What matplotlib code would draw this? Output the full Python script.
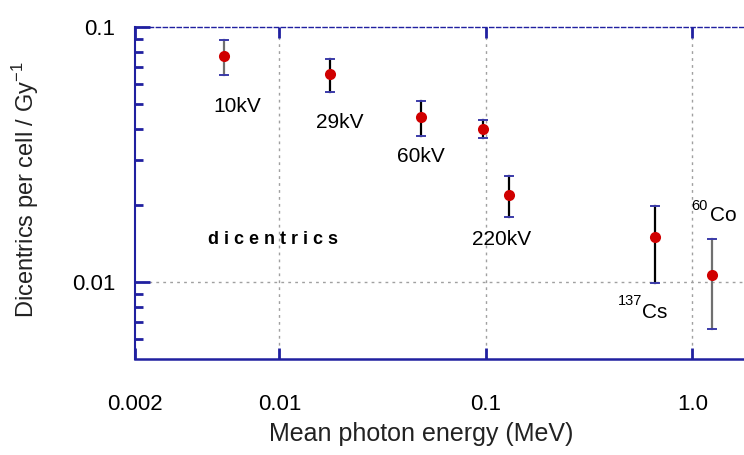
import matplotlib.pyplot as plt
from matplotlib.ticker import FixedLocator, NullFormatter, NullLocator

plt.rcParams['font.family'] = ['Liberation Sans', 'DejaVu Sans']

# mean photon energy (MeV) and dicentric yield per cell per Gy
energy = [0.0054, 0.0175, 0.0485, 0.0964, 0.130, 0.662, 1.25]
yield_ = [0.0770, 0.0655, 0.0445, 0.0399, 0.0219, 0.0150, 0.01065]
err_hi = [0.0892, 0.0747, 0.0513, 0.0432, 0.0261, 0.0199, 0.01475]
err_lo = [0.0648, 0.0557, 0.0375, 0.0368, 0.0180, 0.0099, 0.00658]
bar_colors = ['#707070', 'black', 'black', 'black', 'black', 'black', '#707070']

labels = ['10kV', '29kV', '60kV', '220kV']
label_x = [0.00627, 0.0197, 0.0485, 0.1186]
label_y = [0.0490, 0.0422, 0.0310, 0.0147]

xticks = [0.002, 0.01, 0.1, 1.0]
xtick_labels = ['0.002', '0.01', '0.1', '1.0']

navy = '#2020a0'
cap_col = '#3a3aa8'
grid_col = '#a0a0a0'

fig = plt.figure(figsize=(7.44, 4.55), dpi=100)
ax = fig.add_axes([0.1815, 0.211, 0.8185, 0.7297])
ax.set_xscale('log')
ax.set_yscale('log')
ax.set_xlim(0.002, 1.778)
ax.set_ylim(0.005, 0.1)

for x, y, hi, lo, c in zip(energy, yield_, err_hi, err_lo, bar_colors):
    ax.plot([x, x], [lo, hi], color=c, lw=1.6, zorder=3)
    # blue caps drawn separately from the bar line
    ax.plot([x / 1.045, x * 1.045], [hi, hi], color=cap_col, lw=1.4, zorder=4)
    ax.plot([x / 1.045, x * 1.045], [lo, lo], color=cap_col, lw=1.4, zorder=4)
ax.plot(energy, yield_, 'o', color='#d00000', markersize=8, zorder=5,
        markeredgewidth=0)

for t, x, y in zip(labels, label_x, label_y):
    ax.text(x, y, t, fontsize=15, ha='center', va='center')

ax.text(0.00935, 0.0147, 'd i c e n t r i c s', fontsize=13, fontweight='bold',
        ha='center', va='center')

# isotope labels with small mass numbers
ax.text(0.501, 0.00845, '137', fontsize=10.5, ha='center', va='center')
ax.text(0.657, 0.00763, 'Cs', fontsize=15, ha='center', va='center')
ax.text(1.085, 0.0199, '60', fontsize=10.5, ha='center', va='center')
ax.text(1.406, 0.0182, 'Co', fontsize=15, ha='center', va='center')

for gx in [0.01, 0.1, 1.0]:
    ax.axvline(gx, color=grid_col, lw=1.0, ls=(0, (2, 3)), zorder=1)
ax.axhline(0.01, color=grid_col, lw=1.0, ls=(0, (2, 3)), zorder=1)

ax.spines['right'].set_visible(False)
ax.spines['left'].set_color(navy)
ax.spines['bottom'].set_color(navy)
ax.spines['left'].set_linewidth(1.5)
ax.spines['bottom'].set_linewidth(1.8)
ax.spines['top'].set_color(navy)
ax.spines['top'].set_linestyle((0, (3, 2)))
ax.spines['top'].set_linewidth(1.0)

ax.xaxis.set_major_locator(FixedLocator(xticks))
ax.xaxis.set_minor_locator(NullLocator())
ax.set_xticklabels(xtick_labels)
ax.tick_params(axis='x', which='major', direction='in', length=8, width=2,
               color=navy, top=True, pad=25, labelsize=16)

ax.yaxis.set_major_locator(FixedLocator([0.01, 0.1]))
ax.yaxis.set_minor_locator(FixedLocator([0.006, 0.007, 0.008, 0.009, 0.02, 0.03,
                                         0.04, 0.05, 0.06, 0.07, 0.08, 0.09]))
ax.yaxis.set_minor_formatter(NullFormatter())
ax.set_yticklabels(['0.01', '0.1'])
ax.tick_params(axis='y', which='major', direction='in', length=11, width=2,
               color=navy, pad=14, labelsize=16)
ax.tick_params(axis='y', which='minor', direction='in', length=6, width=2,
               color=navy)

ax.set_xlabel('Mean photon energy (MeV)', fontsize=18, color='#222222')
ax.xaxis.set_label_coords(0.47, -0.19)
ax.set_ylabel('Dicentrics per cell / Gy$^{\\mathregular{-1}}$', fontsize=17,
              color='#222222')
ax.yaxis.set_label_coords(-0.155, 0.51)

fig.savefig('out.png', dpi=100)
